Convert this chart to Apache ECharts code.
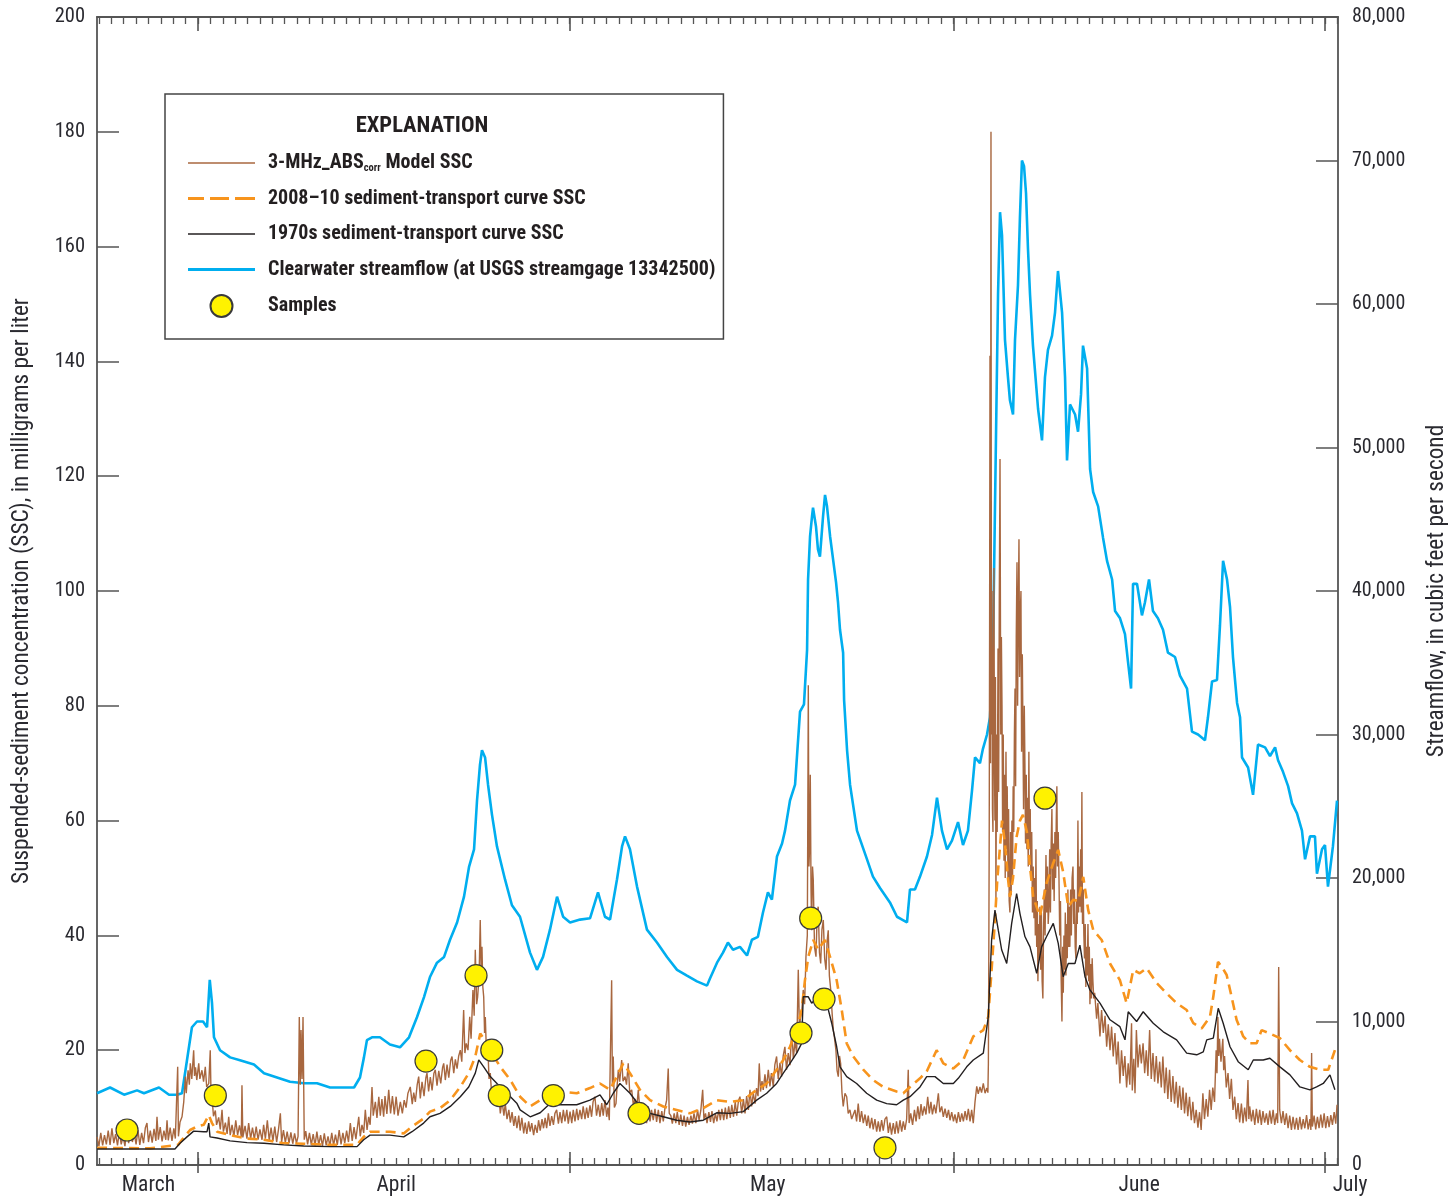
<!DOCTYPE html>
<html>
<head>
<meta charset="utf-8">
<script src="https://cdn.jsdelivr.net/npm/echarts@6/dist/echarts.min.js"></script>
<style>
html,body{margin:0;padding:0;background:#fff;}
#chart{width:1453px;height:1198px;}
</style>
</head>
<body>
<div id="chart"></div>
<script>
// x values: days since March 24 (00:00); April 1 = 8, May 1 = 38, June 1 = 69, July 1 = 99
const absSSC = [[-0.15,4.9],[0.0,3.3],[0.15,5.6],[0.3,3.4],[0.45,5.2],[0.6,3.6],[0.75,6.0],[0.9,3.5],[1.05,6.4],[1.2,3.8],[1.35,5.4],[1.5,3.4],[1.65,5.8],[1.8,3.6],[1.95,5.0],[2.1,3.3],[2.25,6.2],[2.4,3.8],[2.55,6.7],[2.7,4.0],[2.85,5.5],[3.0,3.6],[3.15,6.1],[3.3,3.5],[3.45,5.6],[3.6,3.8],[3.75,6.5],[3.88,7.3],[4.0,4.0],[4.15,6.0],[4.3,3.9],[4.45,6.3],[4.6,4.2],[4.69,8.4],[4.8,4.4],[4.95,6.6],[5.1,4.1],[5.25,6.0],[5.4,4.4],[5.5,7.8],[5.6,4.3],[5.75,6.5],[5.9,4.2],[6.05,6.4],[6.17,4.6],
[6.36,17.1],[6.42,5.0],[6.55,7.5],[6.71,8.4],[6.85,11.0],[6.98,15.4],[7.05,12.5],[7.11,14.2],[7.2,16.5],[7.3,14.0],[7.38,17.7],[7.5,15.0],[7.65,20.0],[7.72,15.5],[7.8,17.0],[7.9,14.8],[8.06,17.7],[8.15,15.0],[8.32,16.5],[8.45,14.5],[8.59,17.1],[8.7,13.6],[8.87,14.2],[8.99,20.0],[9.05,12.5],[9.13,11.9],[9.25,8.5],[9.40,9.5],[9.5,7.0],[9.67,8.3],[9.8,6.2],[9.94,9.6],[10.05,5.8],[10.21,7.4],[10.35,5.4],[10.48,8.4],[10.6,5.2],[10.75,7.0],[10.9,5.0],[11.05,7.8],[11.2,5.2],[11.35,6.9],[11.5,4.9],[11.55,13.9],[11.62,4.8],[11.8,6.8],[11.95,4.6],[12.09,7.3],[12.25,4.6],[12.4,6.5],[12.55,4.5],[12.7,6.7],[12.85,4.4],[13.0,6.2],[13.17,4.4],[13.3,7.0],[13.44,4.6],[13.6,7.8],[13.75,4.3],[13.9,6.5],[14.05,4.2],[14.2,6.7],[14.35,4.0],[14.5,6.2],[14.65,9.0],[14.75,4.0],[14.9,6.1],[15.05,3.9],[15.2,5.8],[15.35,3.8],[15.5,5.7],[15.65,3.7],[15.8,5.5],[15.95,3.8],[16.08,5.0],[16.18,25.8],[16.26,14.0],[16.32,23.5],[16.4,15.0],[16.48,25.8],[16.58,4.4],[16.7,5.9],[16.85,3.6],[17.0,5.6],[17.15,3.5],[17.3,5.4],[17.45,3.4],[17.6,5.8],[17.75,3.5],[17.9,5.2],[18.05,3.3],[18.2,5.5],[18.35,3.4],[18.5,5.0],[18.65,3.3],[18.8,5.6],[18.95,3.4],[19.1,5.3],[19.25,3.5],[19.4,6.1],[19.55,3.6],[19.7,5.6],[19.85,3.8],[20.0,6.0],[20.15,4.0],[20.3,7.3],[20.45,4.2],[20.6,6.6],[20.75,4.5],[20.98,8.4],[21.1,5.0],[21.24,7.0],[21.38,5.6],[21.51,9.6],[21.65,6.1],[21.78,8.4],[21.9,7.0],[22.05,13.6],[22.15,8.6],[22.32,11.0],[22.45,8.2],[22.6,11.9],[22.72,8.6],[22.85,11.5],[22.99,8.4],[23.1,12.0],[23.25,8.9],[23.4,13.1],[23.55,9.0],[23.7,12.0],[23.85,8.8],[24.0,11.9],[24.15,8.6],[24.34,11.0],[24.5,9.0],[24.65,11.3],[24.8,10.0],[24.95,12.5],[25.14,13.6],[25.3,10.6],[25.42,12.6],[25.55,11.0],[25.7,14.0],[25.82,15.4],[25.95,11.6],[26.09,14.5],[26.25,12.0],[26.4,15.2],[26.49,16.0],[26.62,12.8],[26.76,15.3],[26.9,13.0],[27.05,16.0],[27.16,16.6],[27.3,13.8],[27.44,16.4],[27.6,14.2],[27.75,17.0],[27.84,17.7],[27.97,14.8],[28.11,17.5],[28.25,15.2],[28.4,18.2],[28.51,18.9],[28.65,16.0],[28.78,18.4],[28.92,16.8],[29.05,19.0],[29.18,20.0],[29.3,18.0],[29.45,27.0],[29.55,19.5],[29.66,21.2],[29.8,20.0],[29.94,25.8],[30.05,22.0],[30.20,30.5],[30.3,26.0],[30.39,37.5],[30.5,28.0],[30.58,29.3],[30.7,33.0],[30.79,42.7],[30.86,34.0],[30.93,38.0],[31.0,31.0],[31.07,29.3],[31.14,23.0],[31.20,25.8],[31.3,19.0],[31.39,21.2],[31.5,15.0],[31.60,16.0],[31.72,12.0],[31.88,10.7],[32.0,13.5],[32.14,11.0],[32.28,12.5],[32.41,9.0],[32.55,11.2],[32.7,8.6],[32.81,10.7],[32.95,8.0],[33.1,9.6],[33.22,7.4],[33.36,9.2],[33.5,6.8],[33.62,8.5],[33.75,6.4],[33.9,8.6],[34.01,6.0],[34.15,8.2],[34.3,5.5],[34.42,7.4],[34.55,5.4],[34.7,7.6],[34.82,5.8],[34.95,7.3],[35.1,5.2],[35.23,7.0],[35.38,5.6],[35.5,7.8],[35.63,6.0],[35.78,8.0],[35.9,6.4],[36.03,8.2],[36.15,6.4],[36.29,9.0],[36.42,6.8],[36.56,8.5],[36.7,7.0],[36.82,9.0],[36.96,9.6],[37.1,7.2],[37.23,9.2],[37.37,7.3],[37.5,9.6],[37.63,7.6],[37.78,9.6],[37.9,7.2],[38.04,9.3],[38.18,7.3],[38.3,9.6],[38.44,7.6],[38.58,9.8],[38.7,7.8],[38.84,9.6],[38.98,8.0],[39.1,10.2],[39.25,8.0],[39.38,10.0],[39.5,8.2],[39.65,10.4],[39.78,8.4],[39.9,11.0],[40.05,11.9],[40.18,8.6],[40.32,10.5],[40.46,8.4],[40.6,10.8],[40.72,8.6],[40.86,11.3],[41.0,8.4],[41.1,10.0],[41.21,7.8],[41.40,32.2],[41.46,14.0],[41.53,18.9],[41.62,10.0],[41.75,10.7],[41.85,14.0],[41.94,16.6],[42.05,14.5],[42.21,18.3],[42.32,14.6],[42.48,15.4],[42.6,14.0],[42.74,17.7],[42.86,12.6],[43.02,13.1],[43.15,10.5],[43.28,11.5],[43.42,9.8],[43.55,13.1],[43.7,9.0],[43.83,10.6],[43.96,7.5],[44.09,9.6],[44.22,7.3],[44.36,10.2],[44.5,7.6],[44.62,9.6],[44.76,7.8],[44.9,9.8],[45.03,7.5],[45.17,9.6],[45.3,7.3],[45.45,9.4],[45.57,7.6],[45.7,9.8],[45.84,11.3],[45.97,16.8],[46.05,9.0],[46.18,8.6],[46.3,7.2],[46.45,9.0],[46.58,7.3],[46.7,9.2],[46.85,7.0],[46.98,8.8],[47.12,6.8],[47.25,8.6],[47.38,6.7],[47.52,8.4],[47.65,7.0],[47.8,8.6],[47.92,7.2],[48.05,9.0],[48.2,7.3],[48.34,9.6],[48.46,7.8],[48.6,9.5],[48.75,13.1],[48.85,8.0],[48.98,9.0],[49.1,7.3],[49.25,9.2],[49.38,7.5],[49.5,9.4],[49.64,7.3],[49.78,9.0],[49.9,7.6],[50.05,9.6],[50.18,7.8],[50.3,9.8],[50.45,7.8],[50.58,10.0],[50.7,8.0],[50.85,10.2],[50.98,8.2],[51.1,10.5],[51.24,8.4],[51.38,11.0],[51.5,8.6],[51.64,11.2],[51.76,11.9],[51.9,9.0],[52.04,11.5],[52.17,9.0],[52.3,12.0],[52.44,9.6],[52.57,13.1],[52.7,10.2],[52.84,12.5],[52.98,10.7],[53.1,13.4],[53.22,12.0],[53.32,17.7],[53.42,12.8],[53.54,14.6],[53.64,13.1],[53.78,15.8],[53.9,13.4],[54.05,16.6],[54.18,13.7],[54.3,16.0],[54.45,13.7],[54.58,17.5],[54.72,18.9],[54.85,15.0],[54.99,17.8],[55.12,15.4],[55.25,19.0],[55.39,20.6],[55.52,16.6],[55.66,19.5],[55.8,17.4],[55.94,23.5],[56.07,18.5],[56.20,21.5],[56.34,19.5],[56.47,34.0],[56.56,24.0],[56.66,25.8],[56.76,27.0],[56.87,30.5],[56.98,28.0],[57.09,36.3],[57.2,40.0],[57.28,83.6],[57.33,52.0],[57.38,55.0],[57.44,68.0],[57.5,48.0],[57.55,40.9],[57.62,52.0],[57.68,49.7],[57.78,38.0],[57.9,36.3],[58.0,44.0],[58.08,45.0],[58.18,37.0],[58.28,35.1],[58.38,41.0],[58.49,42.7],[58.6,36.0],[58.71,34.0],[58.8,39.0],[58.89,40.9],[58.98,33.0],[59.09,30.5],[59.2,26.5],[59.30,23.5],[59.4,22.0],[59.51,20.0],[59.6,16.5],[59.70,15.4],[59.8,19.0],[59.89,17.7],[60.0,12.5],[60.10,10.2],[60.24,12.5],[60.38,11.9],[60.5,9.0],[60.64,9.6],[60.78,8.0],[60.91,7.8],[61.05,9.6],[61.18,7.6],[61.31,10.7],[61.45,7.5],[61.58,9.4],[61.72,7.3],[61.86,8.8],[62.0,6.8],[62.12,8.6],[62.25,6.4],[62.4,8.2],[62.52,6.2],[62.66,8.0],[62.8,5.8],[62.93,7.6],[63.06,5.8],[63.2,7.8],[63.33,6.0],[63.47,8.0],[63.61,8.4],[63.74,5.6],[63.87,7.4],[64.0,5.3],[64.14,7.3],[64.28,5.4],[64.4,7.6],[64.54,5.5],[64.68,7.8],[64.82,5.8],[64.95,7.6],[65.08,6.1],[65.22,8.0],[65.35,16.6],[65.42,7.3],[65.55,9.0],[65.7,7.0],[65.85,9.6],[65.98,7.6],[66.12,10.2],[66.25,8.0],[66.38,10.6],[66.5,8.6],[66.65,10.2],[66.78,8.8],[66.92,11.9],[67.05,9.0],[67.18,11.0],[67.3,8.8],[67.45,10.5],[67.58,9.0],[67.78,12.5],[67.9,9.2],[68.05,10.2],[68.18,8.4],[68.32,9.8],[68.46,8.2],[68.6,9.6],[68.72,7.8],[68.86,9.2],[69.0,7.6],[69.12,8.8],[69.26,7.3],[69.4,9.2],[69.54,7.5],[69.67,9.0],[69.8,7.6],[69.94,9.4],[70.07,7.8],[70.2,9.8],[70.34,7.6],[70.47,9.6],[70.60,7.3],[70.74,11.0],[70.88,13.7],[71.0,12.4],[71.14,13.6],[71.27,12.6],[71.41,14.2],[71.55,12.5],[71.69,13.4],[71.78,12.6],[71.82,17.7],
[71.86,40],[71.89,60],[71.92,95],[71.95,141],[71.99,70],[72.03,180],[72.07,75],[72.11,100],[72.15,62],[72.19,58],[72.23,88],[72.27,104],[72.31,70],[72.35,60],[72.39,85],[72.43,45],[72.48,75],[72.53,58],[72.60,90],[72.65,65],[72.70,98],[72.76,123],[72.82,75],[72.87,92],[72.92,80],[72.97,58],[73.02,75],[73.08,53],[73.13,68],[73.18,50],[73.24,72],[73.29,55],[73.34,66],[73.40,50],[73.45,62],[73.50,46],[73.56,44],[73.61,58],[73.66,47],[73.72,60],[73.77,50],[73.82,66],[73.87,58],[73.92,75],[73.97,83],[74.02,66],[74.07,92],[74.13,105],[74.18,80],[74.24,98],[74.29,109],[74.34,85],[74.40,96],[74.45,100],[74.50,72],[74.56,89],[74.61,89],[74.66,62],[74.72,80],[74.77,70],[74.82,56],[74.88,68],[74.93,55],[74.98,64],[75.04,52],[75.09,72],[75.14,55],[75.20,62],[75.25,50],[75.32,58],[75.38,44],[75.44,52],[75.50,43],[75.56,50],[75.61,40],[75.66,55],[75.72,38],[75.77,46],[75.82,32],[75.88,42],[75.93,36],[75.98,45],[76.04,34],[76.10,44],[76.16,32],[76.22,29],[76.28,42],[76.34,48],[76.40,40],[76.47,54],[76.53,44],[76.59,52],[76.65,42],[76.71,45],[76.77,55],[76.83,44],[76.89,56],[76.95,62],[77.01,48],[77.07,56],[77.13,46],[77.19,58],[77.25,50],[77.30,60],[77.35,66],[77.40,52],[77.46,58],[77.52,50],[77.58,40],[77.64,46],[77.70,32],[77.76,25],[77.82,38],[77.87,30],[77.92,40],[77.98,34],[78.03,44],[78.08,33],[78.14,42],[78.19,36],[78.24,48],[78.30,38],[78.35,45],[78.40,38],[78.46,48],[78.52,40],[78.58,50],[78.65,52],[78.71,42],[78.77,48],[78.83,38],[78.89,36],[78.95,46],[79.00,42],[79.05,60],[79.10,44],[79.16,52],[79.21,45],[79.27,55],[79.32,44],[79.37,65],[79.42,42],[79.48,48],[79.53,40],[79.58,36],[79.64,42],[79.69,31],[79.75,38],[79.80,33],[79.86,42],[79.92,32],[79.97,38],[80.02,28],[80.08,35],[80.14,29],[80.20,36],[80.26,32],[80.33,29],
[80.40,30.0],[80.56,25.5],[80.66,28.2],[80.83,22.4],[80.96,27.0],[81.10,23.0],[81.24,26.0],[81.37,20.6],[81.5,24.5],[81.64,20.0],[81.77,24.1],[81.90,18.9],[82.04,23.0],[82.17,17.5],[82.3,21.5],[82.44,14.2],[82.57,20.0],[82.71,15.5],[82.84,19.0],[82.98,13.5],[83.11,17.7],[83.24,14.0],[83.38,24.7],[83.44,13.0],[83.56,18.5],[83.66,12.5],[83.77,23.5],[83.9,17.0],[84.04,21.0],[84.17,17.7],[84.31,21.2],[84.44,16.0],[84.57,20.0],[84.7,15.5],[84.84,23.5],[84.97,15.0],[85.11,19.5],[85.24,14.5],[85.38,19.0],[85.51,14.2],[85.65,18.0],[85.78,13.5],[85.91,18.9],[86.05,12.5],[86.18,17.0],[86.31,11.5],[86.45,16.6],[86.58,11.0],[86.72,15.5],[86.85,10.7],[86.99,14.5],[87.12,10.0],[87.26,13.8],[87.4,9.6],[87.53,13.5],[87.66,9.0],[87.79,12.6],[87.92,8.5],[88.06,11.9],[88.2,7.8],[88.33,11.0],[88.46,7.3],[88.6,9.6],[88.74,6.5],[88.87,9.2],[89.0,6.1],[89.14,12.5],[89.27,8.0],[89.41,11.5],[89.54,8.4],[89.68,13.1],[89.81,9.6],[89.94,13.5],[90.08,11.0],[90.21,20.0],[90.28,16.0],[90.35,25.8],[90.42,19.0],[90.48,22.0],[90.6,18.0],[90.75,22.0],[90.82,16.5],[90.89,19.0],[91.03,13.5],[91.17,16.0],[91.3,11.5],[91.44,15.0],[91.57,9.6],[91.71,11.9],[91.84,8.0],[91.98,10.8],[92.11,7.4],[92.25,10.7],[92.38,7.3],[92.51,10.0],[92.65,7.6],[92.78,14.8],[92.85,8.0],[92.92,10.2],[93.06,7.6],[93.19,9.6],[93.33,7.0],[93.46,9.8],[93.6,7.3],[93.73,9.6],[93.86,7.0],[93.99,9.4],[94.13,7.4],[94.27,9.0],[94.4,7.0],[94.54,9.5],[94.67,7.2],[94.81,9.6],[94.94,7.0],[95.08,9.0],[95.18,7.3],[95.26,34.5],[95.34,9.6],[95.48,7.3],[95.61,9.4],[95.75,7.0],[95.88,9.0],[96.02,6.4],[96.15,8.6],[96.29,6.1],[96.42,8.4],[96.56,6.2],[96.70,8.2],[96.83,6.1],[96.97,8.4],[97.1,6.2],[97.24,8.0],[97.37,6.4],[97.51,8.7],[97.64,6.2],[97.78,8.0],[97.86,6.1],[97.92,19.5],[97.98,6.7],[98.12,8.6],[98.25,6.2],[98.39,8.4],[98.52,6.4],[98.66,8.8],[98.79,6.5],[98.93,9.0],[99.06,6.4],[99.2,8.5],[99.33,6.6],[99.47,8.7],[99.6,7.0],[99.74,9.2],[99.87,7.2],[99.97,10.5]];

const curve2008 = [[-0.15,3.0],[4.13,2.9],[6.39,3.5],[6.79,4.6],[7.36,6.1],[7.92,6.7],[8.46,7.0],[8.87,8.7],[9.13,7.3],[9.54,5.8],[10.59,5.2],[11.96,4.6],[13.33,4.4],[14.92,3.8],[16.54,3.7],[18.66,3.5],[20.84,3.5],[21.38,4.9],[21.89,5.8],[23.50,5.8],[24.61,5.5],[25.28,6.7],[26.22,8.1],[26.73,9.3],[27.54,9.9],[28.37,11.3],[29.18,13.6],[29.86,16.0],[30.39,18.9],[30.79,22.9],[31.34,21.2],[31.88,18.9],[32.41,17.1],[33.22,14.8],[34.01,11.9],[34.82,10.2],[35.63,11.3],[36.43,13.6],[37.23,12.8],[38.58,12.5],[39.65,13.4],[40.46,14.2],[41.27,13.1],[41.81,15.4],[42.34,17.7],[42.88,16.0],[43.69,13.1],[44.50,11.3],[45.57,10.2],[46.65,9.6],[47.72,9.0],[48.80,9.9],[49.88,11.3],[50.96,11.0],[52.03,11.3],[53.11,13.1],[53.92,14.2],[54.72,16.6],[55.26,18.3],[55.80,20.6],[56.34,23.5],[56.74,27.0],[57.01,32.2],[57.28,36.3],[57.68,39.2],[58.08,37.5],[58.62,39.2],[59.03,36.3],[59.57,32.2],[59.98,27.0],[60.38,21.2],[60.91,18.9],[61.72,16.6],[62.52,14.8],[63.33,13.6],[64.41,12.8],[64.95,12.5],[65.49,13.6],[66.30,15.1],[66.84,16.3],[67.64,20.0],[68.18,17.7],[68.99,16.8],[69.79,18.3],[70.60,22.4],[71.41,23.5],[71.81,25.8],[72.08,34.0],[72.35,42.7],[72.54,49.7],[72.76,55.5],[72.92,60.0],[73.16,56.0],[73.40,50.0],[73.56,46.7],[73.81,50.0],[74.10,57.2],[74.37,60.0],[74.61,61.0],[74.93,58.0],[75.18,52.0],[75.44,46.7],[75.98,43.3],[76.52,49.1],[77.06,52.6],[77.46,54.9],[77.86,51.0],[78.27,45.0],[78.67,46.2],[79.08,46.0],[79.48,50.2],[79.88,44.4],[80.29,40.9],[80.97,39.2],[81.64,35.1],[82.44,32.2],[82.98,28.2],[83.52,34.0],[84.04,33.4],[84.60,34.3],[85.41,31.7],[86.21,29.9],[87.02,28.2],[87.83,27.0],[88.37,24.7],[89.04,23.8],[89.71,25.8],[89.98,29.3],[90.36,35.4],[90.68,34.5],[91.06,33.1],[91.46,29.3],[91.86,25.3],[92.40,22.4],[92.94,21.2],[93.48,21.2],[93.88,23.5],[94.55,22.9],[95.36,22.1],[96.17,20.0],[96.97,18.3],[97.78,17.1],[98.59,16.6],[99.26,16.6],[99.80,20.0]];

const curve1970 = [[-0.15,2.8],[6.14,2.8],[6.55,3.8],[7.11,4.9],[7.65,5.9],[8.46,5.8],[8.73,5.8],[8.87,7.3],[8.97,4.9],[9.54,4.7],[10.59,4.2],[11.96,3.9],[13.33,3.8],[14.92,3.5],[16.54,3.3],[18.66,3.2],[20.84,3.2],[21.38,4.4],[21.89,5.2],[23.50,5.2],[24.61,4.9],[25.28,5.8],[26.22,7.3],[26.73,8.4],[27.54,9.0],[28.37,10.2],[29.18,11.9],[29.86,13.6],[30.39,16.0],[30.67,18.3],[31.07,17.1],[31.60,15.4],[32.14,14.2],[32.95,12.5],[33.76,10.7],[34.01,9.6],[34.82,8.4],[35.63,9.1],[36.43,10.7],[37.23,10.5],[38.58,10.5],[39.65,11.3],[40.46,12.2],[41.00,10.5],[41.53,12.5],[42.07,14.2],[42.88,12.5],[43.69,10.2],[44.50,9.0],[45.57,8.4],[46.65,7.8],[47.72,7.5],[48.80,7.8],[49.88,9.1],[50.96,9.0],[52.03,9.3],[53.11,11.3],[53.92,12.5],[54.72,14.2],[55.26,16.0],[55.80,17.7],[56.34,19.5],[56.74,21.2],[56.87,29.3],[57.28,29.3],[57.55,28.2],[57.96,29.0],[58.76,28.2],[59.17,24.7],[59.57,20.6],[59.84,17.1],[60.38,15.4],[61.18,14.2],[61.99,12.5],[62.80,11.3],[63.61,10.7],[64.41,10.5],[64.95,11.3],[65.49,11.9],[66.30,13.6],[66.84,15.4],[67.51,15.4],[68.18,14.2],[68.99,14.2],[69.39,15.1],[70.07,17.1],[70.60,18.3],[71.41,19.5],[71.81,25.8],[72.08,39.2],[72.35,44.4],[72.62,40.9],[72.89,37.5],[73.30,35.1],[73.70,42.1],[74.10,47.3],[74.37,43.8],[74.77,39.8],[75.18,38.0],[75.72,33.4],[76.12,38.0],[76.52,39.8],[77.06,42.1],[77.46,38.6],[77.86,32.8],[78.27,35.1],[78.81,35.1],[79.21,38.3],[79.62,32.8],[80.02,30.5],[80.83,28.2],[81.64,25.3],[82.44,24.1],[82.85,21.8],[83.11,26.7],[83.79,25.0],[84.32,26.7],[85.13,24.7],[85.94,23.2],[87.02,21.8],[87.83,19.5],[88.64,19.2],[89.17,19.7],[89.45,21.8],[89.98,22.1],[90.38,27.3],[90.78,24.7],[91.33,20.6],[91.99,18.0],[92.80,16.6],[93.21,18.3],[94.01,18.3],[94.55,18.6],[95.36,17.1],[96.17,15.7],[96.97,13.6],[97.78,13.1],[98.32,13.6],[98.86,14.2],[99.40,15.7],[99.80,13.1]];

const streamflow = [[-0.15,5000],[0.90,5400],[2.03,4900],[3.08,5200],[3.64,5000],[4.85,5400],[5.66,4900],[6.31,4900],[6.71,5000],[7.11,7300],[7.51,9600],[7.92,10000],[8.41,10000],[8.73,9600],[8.95,12900],[9.13,11300],[9.29,8900],[9.78,8000],[10.59,7500],[11.39,7300],[12.52,7000],[13.33,6400],[14.38,6100],[15.43,5800],[16.56,5700],[17.61,5700],[18.66,5400],[20.60,5400],[21.08,6100],[21.40,7500],[21.64,8700],[22.05,8900],[22.69,8900],[23.50,8400],[24.31,8200],[25.04,8900],[25.68,10300],[26.25,11700],[26.73,13100],[27.30,14100],[27.87,14500],[28.35,15700],[28.92,16900],[29.48,18700],[29.89,20800],[30.29,22000],[30.53,25400],[30.77,27900],[30.93,28900],[31.18,28400],[31.42,26500],[31.74,24400],[32.14,22200],[32.79,19900],[33.35,18100],[34.00,17300],[34.81,14800],[35.37,13600],[35.86,14500],[36.42,16400],[36.99,18700],[37.48,17300],[38.04,16900],[38.85,17100],[39.66,17200],[40.30,19000],[40.86,17300],[41.27,17100],[41.83,19900],[42.24,22200],[42.48,22900],[42.88,22000],[43.45,19400],[44.25,16400],[45.06,15500],[45.87,14500],[46.68,13600],[47.48,13200],[48.29,12800],[49.10,12500],[49.34,13000],[49.91,14100],[50.39,14800],[50.79,15500],[51.20,15000],[51.76,15200],[52.33,14600],[52.73,15700],[53.21,15900],[53.62,17600],[54.02,19000],[54.34,18500],[54.75,21500],[55.16,22400],[55.40,23300],[55.80,25400],[56.21,26500],[56.61,31600],[56.93,32100],[57.18,35900],[57.26,40800],[57.42,43800],[57.58,45200],[57.66,45800],[57.90,44500],[58.06,42900],[58.22,42400],[58.47,45200],[58.63,46700],[58.79,45900],[59.04,43800],[59.28,42200],[59.52,40600],[59.68,39200],[59.84,37300],[60.09,35700],[60.17,32400],[60.41,28900],[60.65,26500],[61.21,23300],[62.02,21300],[62.50,20100],[63.07,19300],[63.87,18300],[64.44,17300],[64.85,17100],[65.25,16900],[65.49,19200],[65.89,19200],[66.30,20100],[66.86,21500],[67.27,23000],[67.67,25600],[68.07,23300],[68.48,22000],[68.88,22600],[69.37,23900],[69.77,22300],[70.17,23300],[70.50,26100],[70.74,28400],[71.14,28000],[71.38,29000],[71.71,30000],[71.95,31200],[72.19,35900],[72.44,51100],[72.60,60700],[72.76,66400],[72.92,64800],[73.16,57500],[73.40,54900],[73.56,53300],[73.81,52300],[73.97,57500],[74.21,61300],[74.37,66100],[74.53,70000],[74.70,69600],[74.86,67700],[75.02,63800],[75.18,60700],[75.42,57100],[75.83,52700],[76.15,50500],[76.39,54900],[76.63,56800],[76.96,57800],[77.20,59400],[77.44,62300],[77.77,59400],[78.01,54900],[78.17,49100],[78.41,53000],[78.82,52300],[79.06,51100],[79.30,53700],[79.46,57100],[79.79,55500],[80.03,48500],[80.28,46900],[80.68,45900],[81.08,43700],[81.40,42100],[81.81,40800],[82.05,38600],[82.45,38100],[82.85,37000],[83.09,35100],[83.34,33200],[83.50,40500],[83.82,40500],[84.22,38300],[84.46,39200],[84.79,40800],[85.11,38600],[85.51,38100],[85.92,37300],[86.32,35700],[86.89,35400],[87.29,34100],[87.86,33200],[88.26,30200],[88.75,30000],[89.31,29600],[89.55,31200],[89.88,33700],[90.28,33800],[90.52,37600],[90.77,42100],[91.09,40800],[91.33,38900],[91.57,35400],[91.90,32200],[92.14,31200],[92.30,28400],[92.79,27700],[93.19,25800],[93.59,29300],[94.16,29100],[94.56,28500],[94.97,29100],[95.21,28200],[95.61,27400],[96.02,26400],[96.34,25200],[96.74,24500],[97.14,23300],[97.39,21300],[97.79,22900],[98.19,22900],[98.35,20300],[98.76,22000],[99.00,22300],[99.24,19400],[99.64,22200],[99.97,25400]];

const samples = [[2.27,6.1],[9.40,12.1],[26.41,18.1],[30.45,33.0],[31.72,20.0],[32.33,12.1],[36.69,12.1],[43.61,9.0],[56.69,23.0],[57.47,43.0],[58.55,28.9],[63.47,3.0],[76.39,63.9]];

const monthStartDays = [8, 38, 69, 99];
const monthLabelDays = [4, 24, 54, 84, 99];
const monthLabels = ['March', 'April', 'May', 'June', 'July'];
const dayTicks = [];
for (let d = 0; d <= 100; d++) dayTicks.push(d);

const NAME_ABS = '3-MHz_ABScorr Model SSC';
const NAME_2008 = '2008\u201310 sediment-transport curve SSC';
const NAME_1970 = '1970s sediment-transport curve SSC';
const NAME_FLOW = 'Clearwater streamflow (at USGS streamgage 13342500)';
const NAME_SAMPLES = 'Samples';

const FONT = "'Roboto Condensed', 'Noto Sans Condensed', 'Liberation Sans Narrow', 'DejaVu Sans Condensed', sans-serif";
const TXT = '#2a2a30';
const AX = '#555555';
const X_MIN = -0.155, X_MAX = 100.05;

const chart = echarts.init(document.getElementById('chart'), null, {renderer: 'canvas'});

function xAx(extra) {
  return Object.assign({
    type: 'value', min: X_MIN, max: X_MAX, gridIndex: 0,
    axisLine: {show: false, onZero: false}, axisLabel: {show: false}, splitLine: {show: false}
  }, extra);
}
const lineOn = {show: true, onZero: false, lineStyle: {color: AX, width: 1.8}};

const option = {
  animation: false,
  backgroundColor: '#ffffff',
  textStyle: {fontFamily: FONT},
  grid: {left: 97, right: 115, top: 17, bottom: 33, containLabel: false, outerBoundsMode: 'none'},
  title: {
    text: 'EXPLANATION', left: 422, top: 115, textAlign: 'center', padding: 0,
    textStyle: {fontFamily: FONT, fontSize: 22.5, fontWeight: 'bold', color: '#231f20'}
  },
  legend: {
    data: [
      {name: NAME_ABS, icon: 'path://M0,0h67v1.6h-67z', itemStyle: {borderWidth: 0}},
      {name: NAME_2008, icon: 'path://M0,0h16v3h-16z M22,0h19v3h-19z M47,0h20v3h-20z', itemStyle: {borderWidth: 0}},
      {name: NAME_1970, icon: 'path://M0,0h67v1.6h-67z', itemStyle: {borderWidth: 0}},
      {name: NAME_FLOW, icon: 'path://M0,0h67v3h-67z', itemStyle: {borderWidth: 0}},
      {name: NAME_SAMPLES, icon: 'circle'}
    ],
    orient: 'vertical', left: 165, top: 94,
    padding: [58, 8, 21, 23],
    itemWidth: 67, itemHeight: 22, itemGap: 13.5,
    borderColor: '#444', borderWidth: 1.5, backgroundColor: '#ffffff',
    selectedMode: false,
    formatter: function (name) {
      return name === NAME_ABS ? '3-MHz_ABS{sub|corr} Model SSC' : name;
    },
    textStyle: {
      fontFamily: FONT, fontSize: 20, fontWeight: 'bold', color: '#231f20',
      padding: [0, 0, 0, 8], lineHeight: 22,
      rich: {sub: {fontFamily: FONT, fontSize: 10.5, fontWeight: 'bold', color: '#231f20', lineHeight: 8, verticalAlign: 'bottom'}}
    }
  },
  xAxis: [
    xAx({position: 'bottom', axisLine: lineOn,
         axisTick: {show: true, inside: true, length: 7, customValues: dayTicks, lineStyle: {color: AX, width: 1.3}}}),
    xAx({position: 'bottom',
         axisTick: {show: true, inside: true, length: 13, customValues: monthStartDays, lineStyle: {color: AX, width: 1.6}},
         axisLabel: {show: true, customValues: monthLabelDays, margin: 10, fontFamily: FONT, fontSize: 21.5, color: TXT,
           formatter: function (v) {
             const i = monthLabelDays.indexOf(v);
             const t = i >= 0 ? monthLabels[i] : '';
             return t === 'July' ? '{j|' + t + '}' : t;
           },
           rich: {j: {fontFamily: FONT, fontSize: 21.5, color: TXT, padding: [0, 0, 0, 50]}}}}),
    xAx({position: 'bottom',
         axisTick: {show: true, inside: false, length: 8, customValues: monthStartDays, lineStyle: {color: AX, width: 1.6}}}),
    xAx({position: 'top', axisLine: lineOn,
         axisTick: {show: true, inside: true, length: 7, customValues: dayTicks, lineStyle: {color: AX, width: 1.3}}}),
    xAx({position: 'top',
         axisTick: {show: true, inside: true, length: 14, customValues: monthStartDays, lineStyle: {color: AX, width: 1.6}}})
  ],
  yAxis: [
    {
      type: 'value', position: 'left', min: 0, max: 200, interval: 20,
      name: 'Suspended-sediment concentration (SSC), in milligrams per liter',
      nameLocation: 'middle', nameGap: 63, nameRotate: 90,
      nameTextStyle: {fontFamily: FONT, fontSize: 23.3, color: TXT},
      axisLine: lineOn,
      axisTick: {show: true, inside: true, length: 22, lineStyle: {color: AX, width: 1.5}},
      axisLabel: {margin: 12, fontFamily: FONT, fontSize: 20.5, color: TXT},
      splitLine: {show: false}
    },
    {
      type: 'value', position: 'right', min: 0, max: 80000, interval: 10000,
      name: 'Streamflow, in cubic feet per second',
      nameLocation: 'middle', nameGap: 88, nameRotate: 90,
      nameTextStyle: {fontFamily: FONT, fontSize: 23.3, color: TXT},
      axisLine: lineOn,
      axisTick: {show: true, inside: true, length: 22, lineStyle: {color: AX, width: 1.5}},
      axisLabel: {margin: 14, fontFamily: FONT, fontSize: 20, color: TXT,
        formatter: function (v) { return v.toLocaleString('en-US'); }},
      splitLine: {show: false}
    }
  ],
  series: [
    {name: NAME_FLOW, type: 'line', xAxisIndex: 0, yAxisIndex: 1, data: streamflow, symbol: 'none',
     lineStyle: {color: '#00aeef', width: 2.6}, itemStyle: {color: '#00aeef'}, z: 2},
    {name: NAME_ABS, type: 'line', xAxisIndex: 0, yAxisIndex: 0, data: absSSC, symbol: 'none',
     lineStyle: {color: '#a8673f', width: 1.4}, itemStyle: {color: '#a8673f'}, z: 3},
    {name: NAME_2008, type: 'line', xAxisIndex: 0, yAxisIndex: 0, data: curve2008, symbol: 'none',
     lineStyle: {color: '#f7941d', width: 2.6, type: [10, 6]}, itemStyle: {color: '#f7941d'}, z: 4},
    {name: NAME_1970, type: 'line', xAxisIndex: 0, yAxisIndex: 0, data: curve1970, symbol: 'none',
     lineStyle: {color: '#231f20', width: 1.4}, itemStyle: {color: '#231f20'}, z: 5},
    {name: NAME_SAMPLES, type: 'scatter', xAxisIndex: 0, yAxisIndex: 0, data: samples, symbol: 'circle', symbolSize: 22,
     itemStyle: {color: '#fff200', borderColor: '#3a3a3a', borderWidth: 1.2, opacity: 1}, z: 6}
  ]
};

chart.setOption(option);
</script>
</body>
</html>
